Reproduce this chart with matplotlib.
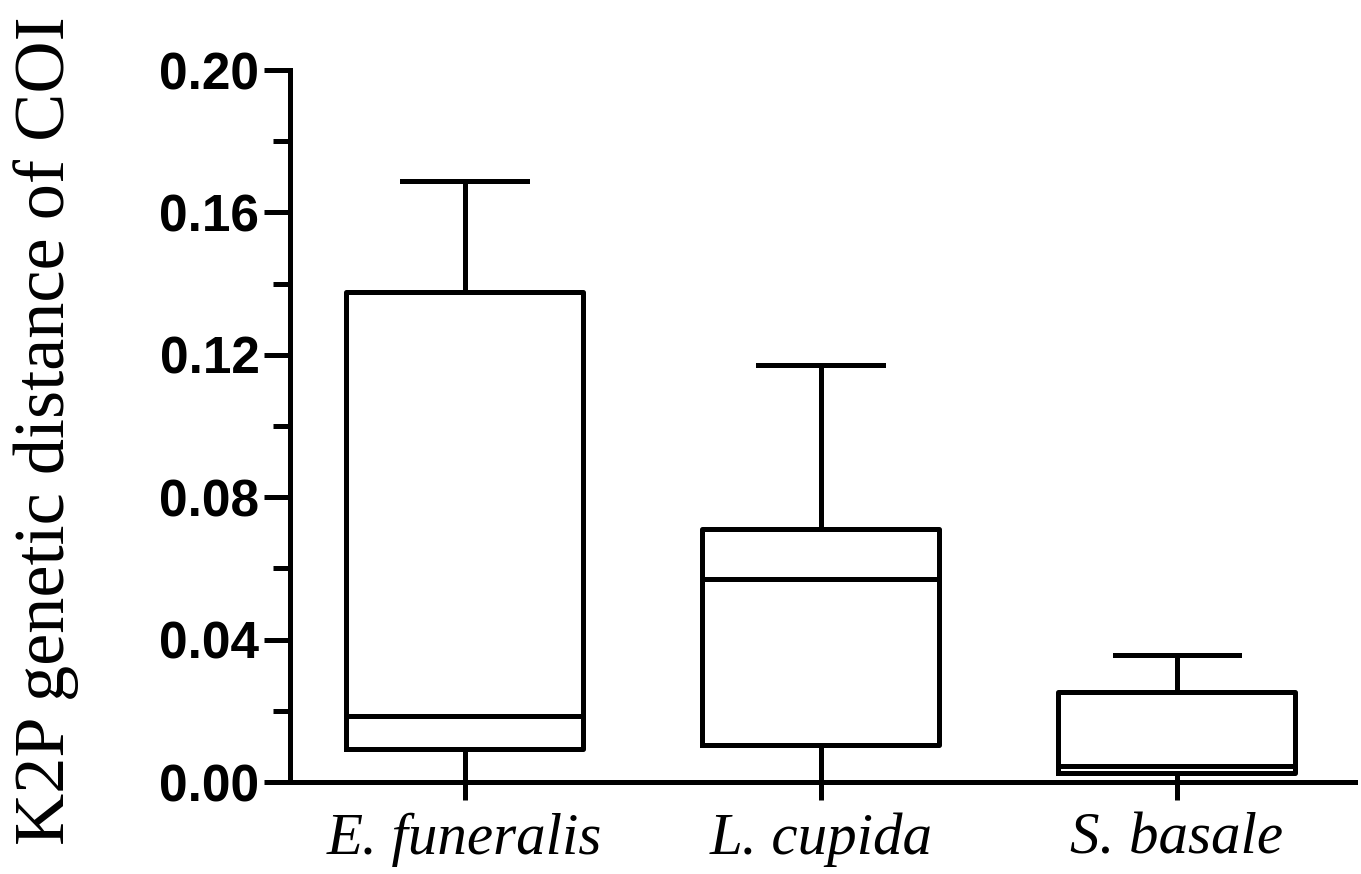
import matplotlib
matplotlib.use("Agg")
import matplotlib.pyplot as plt
from matplotlib.ticker import MultipleLocator

species = ["E. funeralis", "L. cupida", "S. basale"]
whislo = [0.0, 0.0, 0.0]
q1 = [0.0093, 0.0104, 0.0025]
med = [0.0185, 0.057, 0.0045]
q3 = [0.1376, 0.0711, 0.0253]
whishi = [0.1688, 0.117, 0.0357]

stats = [dict(label=s, whislo=a, q1=b, med=c, q3=d, whishi=e, fliers=[])
         for s, a, b, c, d, e in zip(species, whislo, q1, med, q3, whishi)]

fig = plt.figure(figsize=(13.61, 8.74), dpi=100)
ax = fig.add_axes([290/1361, (874-782)/874, (1355-290)/1361, (782-70)/874])

lw = 3.6
ax.bxp(stats, positions=[0, 1, 2], widths=0.665, showfliers=False,
       boxprops=dict(linewidth=lw, color="black"),
       medianprops=dict(linewidth=lw, color="black"),
       whiskerprops=dict(linewidth=lw, color="black"),
       capprops=dict(linewidth=lw, color="black"),
       capwidths=0.35)

ax.set_xlim(-0.49, 2.5)
ax.set_ylim(0, 0.20)
for s in ["top", "right"]:
    ax.spines[s].set_visible(False)
for s in ["left", "bottom"]:
    ax.spines[s].set_linewidth(lw)

ax.yaxis.set_major_locator(MultipleLocator(0.04))
ax.yaxis.set_minor_locator(MultipleLocator(0.02))
ax.set_yticklabels([f"{v:.2f}" for v in ax.get_yticks()],
                   fontsize=37, fontweight="bold", family="Liberation Sans")
ax.tick_params(axis="y", which="major", length=19, width=lw, pad=3)
ax.tick_params(axis="y", which="minor", length=12, width=lw)
ax.set_xticks([0, 1, 2])
ax.set_xticklabels(species, fontsize=42.5, style="italic", family="Liberation Serif")
ax.tick_params(axis="x", which="major", length=13, width=lw, pad=9)
ax.set_ylabel("K2P genetic distance of COI", fontsize=52, family="Liberation Serif")
ax.yaxis.set_label_coords(-0.198, 0.494)

fig.savefig("out.png", dpi=100)
